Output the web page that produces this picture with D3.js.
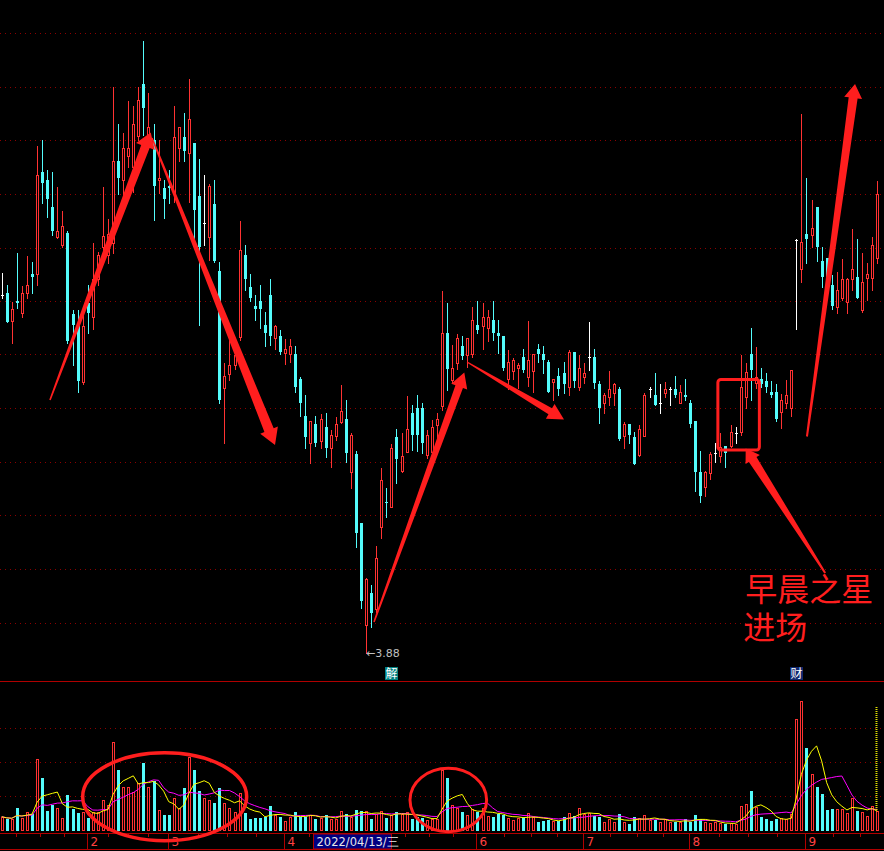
<!DOCTYPE html>
<html>
<head>
<meta charset="utf-8">
<script src="https://cdn.jsdelivr.net/npm/d3@7/dist/d3.min.js"></script>
<style>
  body { margin: 0; background: #000; }
  svg { display: block; }
</style>
</head>
<body>
<svg id="chart" width="884" height="851"></svg>
<script>
// daily bars, 2022-01-06 .. 2022-09-21
const opens = [4.596,4.600,4.544,4.584,4.560,4.600,4.638,4.638,4.842,4.826,
  4.772,4.712,4.696,4.720,4.558,4.536,4.422,4.580,4.552,4.628,
  4.692,4.676,4.700,4.864,4.826,4.874,4.852,4.914,5.018,4.916,
  4.906,4.826,4.810,4.814,4.800,4.890,4.912,4.880,4.900,4.794,
  4.740,4.712,4.778,4.644,4.410,4.438,4.456,4.512,4.676,4.612,
  4.574,4.584,4.536,4.596,4.510,4.514,4.480,4.478,4.478,4.428,
  4.354,4.300,4.338,4.304,4.332,4.290,4.314,4.342,4.348,4.242,
  4.278,4.140,3.936,4.000,3.968,4.132,4.182,4.172,4.312,4.244,
  4.282,4.360,4.370,4.370,4.276,4.282,4.336,4.374,4.520,4.426,
  4.460,4.494,4.476,4.478,4.536,4.534,4.530,4.546,4.520,4.514,
  4.428,4.444,4.450,4.472,4.432,4.444,4.488,4.478,4.462,4.422,
  4.434,4.440,4.412,4.482,4.412,4.432,4.472,4.472,4.418,4.380,
  4.392,4.400,4.408,4.314,4.338,4.312,4.276,4.314,4.408,4.396,
  4.380,4.400,4.408,4.408,4.380,4.396,4.380,4.344,4.242,4.212,
  4.240,4.280,4.274,4.294,4.294,4.320,4.322,4.392,4.478,4.420,
  4.428,4.424,4.402,4.402,4.362,4.380,4.370,4.706,4.648,4.718,
  4.716,4.772,4.664,4.670,4.616,4.572,4.590,4.582,4.628,4.632,
  4.566,4.630,4.630,4.670];

const highs = [4.640,4.616,4.582,4.680,4.614,4.674,4.662,4.894,4.906,4.846,
  4.842,4.812,4.764,4.724,4.566,4.566,4.572,4.616,4.700,4.682,
  4.812,4.748,5.012,4.938,4.920,4.984,4.974,5.012,5.104,5.000,
  4.938,4.906,4.826,4.846,4.974,4.932,4.960,5.028,4.900,4.868,
  4.836,4.818,4.826,4.662,4.460,4.512,4.486,4.744,4.696,4.638,
  4.596,4.616,4.562,4.628,4.536,4.526,4.508,4.508,4.494,4.432,
  4.396,4.344,4.354,4.358,4.360,4.326,4.352,4.416,4.386,4.320,
  4.284,4.140,4.030,4.016,4.094,4.250,4.210,4.298,4.328,4.320,
  4.394,4.376,4.396,4.380,4.326,4.346,4.360,4.604,4.580,4.496,
  4.518,4.514,4.510,4.572,4.584,4.580,4.566,4.584,4.546,4.514,
  4.486,4.470,4.460,4.488,4.544,4.478,4.498,4.494,4.466,4.428,
  4.450,4.462,4.486,4.482,4.476,4.460,4.542,4.488,4.424,4.400,
  4.444,4.420,4.412,4.342,4.338,4.322,4.336,4.400,4.412,4.440,
  4.418,4.422,4.412,4.434,4.416,4.428,4.386,4.344,4.284,4.244,
  4.282,4.300,4.320,4.294,4.336,4.332,4.476,4.460,4.530,4.492,
  4.450,4.440,4.424,4.418,4.398,4.426,4.446,4.708,4.958,4.830,
  4.786,4.772,4.692,4.670,4.636,4.642,4.668,4.630,4.728,4.708,
  4.680,4.660,4.712,4.824];

const lows = [4.590,4.542,4.500,4.570,4.552,4.590,4.600,4.616,4.780,4.752,
  4.716,4.710,4.692,4.500,4.456,4.402,4.418,4.520,4.528,4.616,
  4.684,4.660,4.680,4.798,4.792,4.852,4.802,4.906,4.916,4.896,
  4.746,4.800,4.750,4.780,4.782,4.864,4.864,4.782,4.706,4.536,
  4.696,4.666,4.662,4.380,4.300,4.426,4.448,4.506,4.606,4.584,
  4.546,4.530,4.494,4.496,4.488,4.478,4.458,4.462,4.402,4.354,
  4.290,4.260,4.294,4.290,4.272,4.252,4.306,4.340,4.262,4.210,
  4.092,3.970,3.880,3.932,3.962,4.110,4.152,4.172,4.220,4.242,
  4.282,4.286,4.284,4.280,4.270,4.274,4.306,4.366,4.406,4.420,
  4.448,4.468,4.452,4.472,4.520,4.488,4.504,4.506,4.480,4.446,
  4.408,4.428,4.410,4.442,4.414,4.402,4.462,4.440,4.402,4.386,
  4.396,4.400,4.396,4.412,4.406,4.420,4.446,4.410,4.340,4.360,
  4.376,4.376,4.306,4.290,4.300,4.258,4.274,4.314,4.392,4.376,
  4.360,4.392,4.376,4.392,4.380,4.386,4.332,4.204,4.182,4.194,
  4.228,4.262,4.262,4.252,4.292,4.300,4.316,4.370,4.386,4.410,
  4.412,4.402,4.392,4.344,4.330,4.370,4.354,4.528,4.622,4.660,
  4.692,4.664,4.612,4.606,4.568,4.560,4.586,4.560,4.606,4.590,
  4.562,4.586,4.606,4.660];

const closes = [4.596,4.542,4.568,4.580,4.600,4.616,4.632,4.836,4.820,4.788,
  4.724,4.724,4.734,4.504,4.536,4.424,4.534,4.560,4.628,4.676,
  4.714,4.718,4.864,4.830,4.890,4.890,4.938,4.986,4.970,4.932,
  4.814,4.830,4.788,4.810,4.912,4.932,4.884,4.948,4.766,4.692,
  4.740,4.814,4.664,4.386,4.434,4.456,4.476,4.686,4.628,4.590,
  4.568,4.568,4.520,4.514,4.534,4.482,4.488,4.494,4.412,4.380,
  4.312,4.344,4.300,4.348,4.290,4.316,4.338,4.364,4.280,4.316,
  4.120,3.984,4.028,3.960,4.070,4.226,4.180,4.290,4.268,4.274,
  4.328,4.316,4.316,4.300,4.316,4.332,4.348,4.520,4.448,4.450,
  4.510,4.474,4.510,4.546,4.526,4.552,4.552,4.520,4.514,4.450,
  4.462,4.466,4.456,4.446,4.466,4.478,4.478,4.466,4.402,4.428,
  4.408,4.418,4.482,4.424,4.450,4.440,4.472,4.420,4.370,4.396,
  4.408,4.418,4.308,4.338,4.316,4.258,4.328,4.396,4.408,4.376,
  4.380,4.408,4.408,4.396,4.402,4.392,4.338,4.242,4.194,4.242,
  4.278,4.280,4.292,4.280,4.322,4.320,4.412,4.442,4.446,4.432,
  4.418,4.412,4.396,4.348,4.386,4.396,4.446,4.706,4.702,4.708,
  4.730,4.692,4.632,4.632,4.574,4.606,4.628,4.628,4.648,4.590,
  4.622,4.638,4.696,4.798];

// volume, thousand lots
const volumes = [14.3,12,12,23.3,13.3,18.7,17,72,53.3,20,
  26,23.3,13.3,36,22,18.3,18.7,13.3,18.7,18.7,
  31,26,88.7,61,43.7,43.7,38.7,47.7,68.3,43.7,
  50,21,16,16,32.7,22.7,43.3,74.3,61,40,
  32.7,31,28.3,43.3,27.7,23.3,18.7,37.7,18.3,12,
  13.3,13.3,14.3,25,16,14.3,10,14.3,19.3,14.3,
  14.3,16,12,13.3,16,12,12,20,17,14.3,
  21,20,20,12,17,20,13.3,16,19,17,
  19,12,14.3,12.7,11,12,12,61,53.3,26,
  23.3,19,16,22,18.7,23.3,15,14.3,17,16,
  13.3,11,13.3,13.3,17.7,14.3,9.3,10,11,10.3,
  10.3,14.3,17.7,15.3,23.3,16.7,17.7,15,14.3,8.7,
  12,8.7,17,8.7,7,14,13.3,16,11,11,
  8.7,11.7,9.3,9.3,8.7,12,9.3,16,12,8.7,
  7.7,8.7,7.7,7,7.7,7,25,27,40,24.3,
  14.3,12,10,12,12.7,11.7,17,112,130,83,
  56.7,44,37,21,22,22,22,18.3,33.3,20,
  18.7,15.3,25,20];

// first bar of each month (Jan..Oct), bar index
const monthStarts = [-2, 17, 33, 56, 75, 94, 115, 136, 159, 180];
const monthNames = ['1', '2', '3', '4', '5', '6', '7', '8', '9'];
const priceGrid = [5.120, 5.013, 4.906, 4.798, 4.691, 4.584, 4.477, 4.370, 4.262, 4.155, 4.048, 3.941];
const volumeGrid = [35, 69, 103];
const cursorIdx = 62;
const cursorLabel = '2022/04/13/三';
const eventMarks = [
  { idx: 77, label: '解', fill: '#008080' },
  { idx: 157, label: '财', fill: '#10286e' }
];

const UP = '#ff3232', DOWN = '#54fcfc', DOJI = '#ffffff';
const MARK = '#ff1e1e', GRID = '#8c0000', FRAME = '#b00000';

const svg = d3.select('#chart');
const W = 884;

const x = d3.scaleLinear().domain([0, 173]).range([1.7, 877.3]);
const y = d3.scaleLinear().domain([3.88, 5.186]).range([653, 0]);
const yv = d3.scaleLinear().domain([0, 150]).range([831, 681]);

const bars = opens.map((o, i) => ({
  i, o, h: highs[i], l: lows[i], c: closes[i], v: volumes[i]
}));

// grid
svg.append('g').selectAll('line').data(priceGrid).enter().append('line')
  .attr('x1', 0).attr('x2', W)
  .attr('y1', d => Math.round(y(d)) + 0.5).attr('y2', d => Math.round(y(d)) + 0.5)
  .attr('stroke', GRID).attr('stroke-dasharray', '1,4');

svg.append('g').selectAll('line').data(volumeGrid).enter().append('line')
  .attr('x1', 0).attr('x2', W)
  .attr('y1', d => Math.round(yv(d)) + 0.5).attr('y2', d => Math.round(yv(d)) + 0.5)
  .attr('stroke', GRID).attr('stroke-dasharray', '1,4');

// frame lines
[681.5, 833.5, 849.5].forEach(yy => {
  svg.append('line').attr('x1', 0).attr('x2', W).attr('y1', yy).attr('y2', yy)
    .attr('stroke', FRAME).attr('stroke-width', 1);
});

// candles
const candleG = svg.append('g');
candleG.selectAll('g').data(bars).enter().append('g').each(function (d) {
  const g = d3.select(this);
  const cx = Math.round(x(d.i));
  const yh = Math.round(y(d.h)), yl = Math.round(y(d.l));
  const top = Math.round(y(Math.max(d.o, d.c))), bot = Math.round(y(Math.min(d.o, d.c)));
  if (d.c === d.o) {
    g.append('line').attr('x1', cx + 0.5).attr('x2', cx + 0.5).attr('y1', yh).attr('y2', yl + 1)
      .attr('stroke', DOJI);
    g.append('line').attr('x1', cx - 1).attr('x2', cx + 2).attr('y1', top + 0.5).attr('y2', top + 0.5)
      .attr('stroke', DOJI);
  } else if (d.c > d.o) {
    g.append('line').attr('x1', cx + 0.5).attr('x2', cx + 0.5).attr('y1', yh).attr('y2', top)
      .attr('stroke', UP);
    g.append('line').attr('x1', cx + 0.5).attr('x2', cx + 0.5).attr('y1', bot).attr('y2', yl + 1)
      .attr('stroke', UP);
    g.append('rect').attr('x', cx - 0.5).attr('y', top + 0.5)
      .attr('width', 2).attr('height', Math.max(bot - top, 1))
      .attr('fill', 'none').attr('stroke', UP);
  } else {
    g.append('line').attr('x1', cx + 0.5).attr('x2', cx + 0.5).attr('y1', yh).attr('y2', yl + 1)
      .attr('stroke', DOWN);
    g.append('rect').attr('x', cx - 1).attr('y', top)
      .attr('width', 3).attr('height', Math.max(bot - top, 1))
      .attr('fill', DOWN);
  }
});

// volume bars
const volG = svg.append('g');
volG.selectAll('g').data(bars).enter().append('g').each(function (d) {
  const g = d3.select(this);
  const cx = Math.round(x(d.i));
  const yt = Math.round(yv(d.v));
  if (d.c >= d.o) {
    g.append('rect').attr('x', cx - 0.5).attr('y', yt + 0.5)
      .attr('width', 2).attr('height', 831 - yt - 1)
      .attr('fill', 'none').attr('stroke', UP);
  } else {
    g.append('rect').attr('x', cx - 1).attr('y', yt)
      .attr('width', 3).attr('height', 831 - yt)
      .attr('fill', DOWN);
  }
});

// volume moving averages
function movingAvg(n) {
  return volumes.map((v, i) => ({ i, m: d3.mean(volumes.slice(Math.max(0, i - n + 1), i + 1)) }));
}
const vLine = d3.line().x(d => x(d.i)).y(d => yv(d.m));
svg.append('path').datum(movingAvg(10)).attr('d', vLine)
  .attr('fill', 'none').attr('stroke', '#ff00ff').attr('stroke-width', 1);
svg.append('path').datum(movingAvg(5)).attr('d', vLine)
  .attr('fill', 'none').attr('stroke', '#ffff00').attr('stroke-width', 1);

// marker on the last bar
svg.append('line')
  .attr('x1', Math.round(x(173)) - 0.5).attr('x2', Math.round(x(173)) - 0.5)
  .attr('y1', yv(124)).attr('y2', yv(volumes[173]))
  .attr('stroke', '#e0e000').attr('stroke-width', 2).attr('stroke-dasharray', '1,1');

// lowest price label
const lowIdx = d3.minIndex(lows);
const lowX = Math.round(x(lowIdx)), lowY = Math.round(y(lows[lowIdx]));
svg.append('text').attr('x', lowX).attr('y', lowY + 4)
  .attr('fill', '#c0c0c0').attr('font-family', 'DejaVu Sans, sans-serif').attr('font-size', 11)
  .text('←' + lows[lowIdx].toFixed(2));

// event tags under candles
eventMarks.forEach(e => {
  const ex = Math.round(x(e.idx));
  svg.append('rect').attr('x', ex - 6).attr('y', 667).attr('width', 13).attr('height', 13)
    .attr('fill', e.fill);
  svg.append('text').attr('x', ex + 0.5).attr('y', 678).attr('text-anchor', 'middle')
    .attr('fill', '#ffffff').attr('font-family', 'Noto Sans CJK SC').attr('font-size', 12)
    .text(e.label);
});

// cursor date box position (month labels under it are hidden)
const bx = Math.round(x(cursorIdx)) - 1.5;
const bw = 78;

// month axis
for (let k = 0; k < monthNames.length; k++) {
  const a = monthStarts[k], b = monthStarts[k + 1];
  for (let q = 1; q <= 3; q++) {
    const tx = Math.round(x(a + q * (b - a) / 4)) + 0.5;
    svg.append('line').attr('x1', tx).attr('x2', tx).attr('y1', 834).attr('y2', 837)
      .attr('stroke', FRAME);
  }
  if (k === 0) continue;
  const sx = Math.round(x(a)) - 0.5;
  if (sx > bx && sx < bx + bw) continue;
  svg.append('line').attr('x1', sx).attr('x2', sx).attr('y1', 833).attr('y2', 850)
    .attr('stroke', FRAME);
  svg.append('text').attr('x', sx + 3).attr('y', 846)
    .attr('fill', '#ff4040').attr('font-family', 'DejaVu Sans, sans-serif').attr('font-size', 12)
    .text(monthNames[k]);
}

// cursor date box
svg.append('rect').attr('x', bx).attr('y', 834).attr('width', bw).attr('height', 15)
  .attr('fill', '#000080').attr('stroke', FRAME);
svg.append('text').attr('x', bx + 3).attr('y', 846)
  .attr('fill', '#e8e8e8').attr('font-family', 'DejaVu Sans, sans-serif').attr('font-size', 11.5)
  .text(cursorLabel);

// hand-drawn annotations, anchored in data space [bar index, price]
const arrows = [
  { from: [9.54, 4.386], to: [29.44, 4.921], tail: 0.8, neck: 4.5, len: 15, head: 10 },
  { from: [29.7, 4.910], to: [54.0, 4.296], tail: 0.8, neck: 5, len: 16, head: 9.5 },
  { from: [73.56, 3.942], to: [91.4, 4.441], tail: 0.8, neck: 4, len: 15, head: 8.5 },
  { from: [91.94, 4.462], to: [111.1, 4.347], tail: 0.6, neck: 3.5, len: 16, head: 8.5 },
  { from: [162.7, 4.040], to: [147.0, 4.289], tail: 1, neck: 4.5, len: 13, head: 8.5 },
  { from: [159.1, 4.313], to: [168.6, 5.018], tail: 1, neck: 4.5, len: 14, head: 9 }
];

function arrowPoints(a) {
  const tx = x(a.from[0]), ty = y(a.from[1]);
  const hx = x(a.to[0]), hy = y(a.to[1]);
  const L = Math.hypot(hx - tx, hy - ty);
  const ux = (hx - tx) / L, uy = (hy - ty) / L;
  const nx = -uy, ny = ux;
  const mx = hx - ux * a.len, my = hy - uy * a.len;
  return [
    [tx + nx * a.tail, ty + ny * a.tail],
    [mx + nx * a.neck, my + ny * a.neck],
    [mx + nx * a.head, my + ny * a.head],
    [hx, hy],
    [mx - nx * a.head, my - ny * a.head],
    [mx - nx * a.neck, my - ny * a.neck],
    [tx - nx * a.tail, ty - ny * a.tail]
  ];
}

svg.append('g').selectAll('polygon').data(arrows).enter().append('polygon')
  .attr('points', d => arrowPoints(d).map(p => p.join(',')).join(' '))
  .attr('fill', MARK);

// box around the morning star
const boxIdx = [141.5, 149.7], boxPrice = [4.286, 4.427];
svg.append('rect')
  .attr('x', x(boxIdx[0])).attr('y', y(boxPrice[1]))
  .attr('width', x(boxIdx[1]) - x(boxIdx[0])).attr('height', y(boxPrice[0]) - y(boxPrice[1]))
  .attr('rx', 3).attr('fill', 'none').attr('stroke', MARK).attr('stroke-width', 3);

// volume circles [bar index, volume, index radius, volume radius]
const rings = [
  { c: [32.2, 34.3], r: [16.2, 44], w: 3.5 },
  { c: [88.24, 31], r: [7.57, 31.7], w: 3 }
];
svg.append('g').selectAll('ellipse').data(rings).enter().append('ellipse')
  .attr('cx', d => x(d.c[0])).attr('cy', d => yv(d.c[1]))
  .attr('rx', d => x(d.c[0] + d.r[0]) - x(d.c[0]))
  .attr('ry', d => yv(0) - yv(d.r[1]))
  .attr('fill', 'none').attr('stroke', MARK).attr('stroke-width', d => d.w);

// note text, two lines
const noteLines = ['早晨之星', '进场'];
const noteAt = [146.9, 3.984];
svg.append('g').selectAll('text').data(noteLines).enter().append('text')
  .attr('x', (d, k) => x(noteAt[0]) - k * 2)
  .attr('y', (d, k) => y(noteAt[1]) + k * 38)
  .attr('fill', MARK).attr('font-family', 'DejaVu Sans, Noto Sans CJK SC').attr('font-size', 32)
  .text(d => d);
</script>
</body>
</html>
